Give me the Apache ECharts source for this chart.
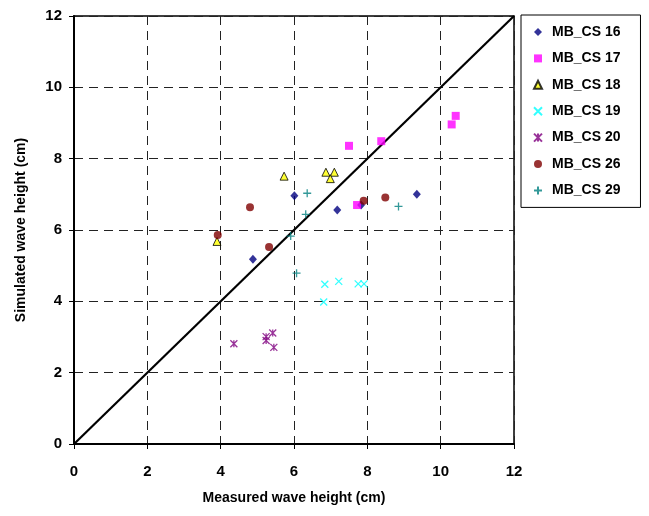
<!DOCTYPE html>
<html>
<head>
<meta charset="utf-8">
<script src="https://cdn.jsdelivr.net/npm/echarts@6/dist/echarts.min.js"></script>
<style>
  html, body { margin: 0; padding: 0; background: #fff; }
  #chart { width: 649px; height: 516px; }
</style>
</head>
<body>
<div id="chart"></div>
<script>
// measured vs simulated wave height, [x, y] pairs per cross section
const cs16 = [[4.88, 5.18], [6.01, 6.96], [7.18, 6.56], [7.83, 6.70], [9.35, 7.0]];
const cs17 = [[7.5, 8.36], [8.38, 8.49], [7.72, 6.70], [10.41, 9.2], [10.3, 8.96]];
const cs18 = [[3.9, 5.68], [5.73, 7.51], [6.87, 7.62], [7.10, 7.62], [6.99, 7.44]];
const cs19 = [[6.81, 3.98], [6.84, 4.48], [7.22, 4.56], [7.75, 4.49], [7.91, 4.49]];
const cs20 = [[4.36, 2.81], [5.24, 3.01], [5.24, 2.90], [5.42, 3.11], [5.45, 2.71]];
const cs26 = [[3.92, 5.86], [4.80, 6.64], [5.32, 5.52], [7.90, 6.82], [8.49, 6.91]];
const cs29 = [[5.91, 5.83], [6.07, 4.79], [6.32, 6.44], [6.36, 7.03], [8.85, 6.66]];
const perfectLine = [[0, 0], [12, 12]];

const font = 'Liberation Sans, Arial, sans-serif';

const xShape = 'path://M0 0 L10 10 M10 0 L0 10';
const plusShape = 'path://M5 0 L5 10 M0 5 L10 5';
const starShape = 'path://M0 0 L10 10 M10 0 L0 10 M5 0 L5 10';

const chart = echarts.init(document.getElementById('chart'));

function strokeItem(color) {
  return { color: 'rgba(0,0,0,0)', borderColor: color, borderWidth: 1.3 };
}

chart.setOption({
  animation: false,
  backgroundColor: '#fff',
  grid: {
    left: 74, right: 135, top: 16, bottom: 72,
    show: true, borderColor: '#000', borderWidth: 1.5
  },
  xAxis: {
    type: 'value', min: 0, max: 12, interval: 2,
    name: 'Measured wave height (cm)',
    nameLocation: 'middle', nameGap: 47,
    nameTextStyle: { fontFamily: font, fontWeight: 'bold', fontSize: 14, color: '#000' },
    axisLine: { lineStyle: { color: '#000', width: 2 } },
    axisTick: { show: true, length: 5, lineStyle: { color: '#000', width: 1 } },
    axisLabel: { fontFamily: font, fontWeight: 'bold', fontSize: 15, color: '#000', margin: 20 },
    splitLine: { show: true, lineStyle: { color: '#222', type: [9, 6], width: 1 } }
  },
  yAxis: {
    type: 'value', min: 0, max: 12, interval: 2,
    name: 'Simulated wave height (cm)',
    nameLocation: 'middle', nameGap: 46,
    nameTextStyle: { fontFamily: font, fontWeight: 'bold', fontSize: 14, color: '#000' },
    axisLine: { show: true, lineStyle: { color: '#000', width: 2 } },
    axisTick: { show: true, length: 5, lineStyle: { color: '#000', width: 1 } },
    axisLabel: { fontFamily: font, fontWeight: 'bold', fontSize: 15, color: '#000', margin: 12 },
    splitLine: { show: true, lineStyle: { color: '#222', type: [9, 6], width: 1 } }
  },
  legend: {
    orient: 'vertical',
    left: 521, top: 15,
    padding: [10, 20, 10, 12],
    borderColor: '#000', borderWidth: 1,
    itemWidth: 8, itemHeight: 8, itemGap: 12.4,
    textStyle: { fontFamily: font, fontWeight: 'bold', fontSize: 14, color: '#000', padding: [0, 0, 0, 5] },
    data: ['MB_CS 16', 'MB_CS 17', 'MB_CS 18', 'MB_CS 19', 'MB_CS 20', 'MB_CS 26', 'MB_CS 29']
  },
  series: [
    {
      type: 'line', data: perfectLine, showSymbol: false, silent: true,
      lineStyle: { color: '#000', width: 2.2 }, z: 1
    },
    {
      name: 'MB_CS 16', type: 'scatter', data: cs16,
      symbol: 'diamond', symbolSize: [8, 9],
      itemStyle: { color: '#000080' }
    },
    {
      name: 'MB_CS 17', type: 'scatter', data: cs17,
      symbol: 'rect', symbolSize: 8,
      itemStyle: { color: '#ff00ff' }
    },
    {
      name: 'MB_CS 18', type: 'scatter', data: cs18,
      symbol: 'triangle', symbolSize: 8,
      itemStyle: { color: '#ffff00', borderColor: '#000', borderWidth: 1 }
    },
    {
      name: 'MB_CS 19', type: 'scatter', data: cs19,
      symbol: xShape, symbolSize: 7,
      itemStyle: strokeItem('#00ffff')
    },
    {
      name: 'MB_CS 20', type: 'scatter', data: cs20,
      symbol: starShape, symbolSize: 7,
      itemStyle: strokeItem('#800080')
    },
    {
      name: 'MB_CS 26', type: 'scatter', data: cs26,
      symbol: 'circle', symbolSize: 8,
      itemStyle: { color: '#800000' }
    },
    {
      name: 'MB_CS 29', type: 'scatter', data: cs29,
      symbol: plusShape, symbolSize: 8,
      itemStyle: strokeItem('#008080')
    }
  ]
});
</script>
</body>
</html>
